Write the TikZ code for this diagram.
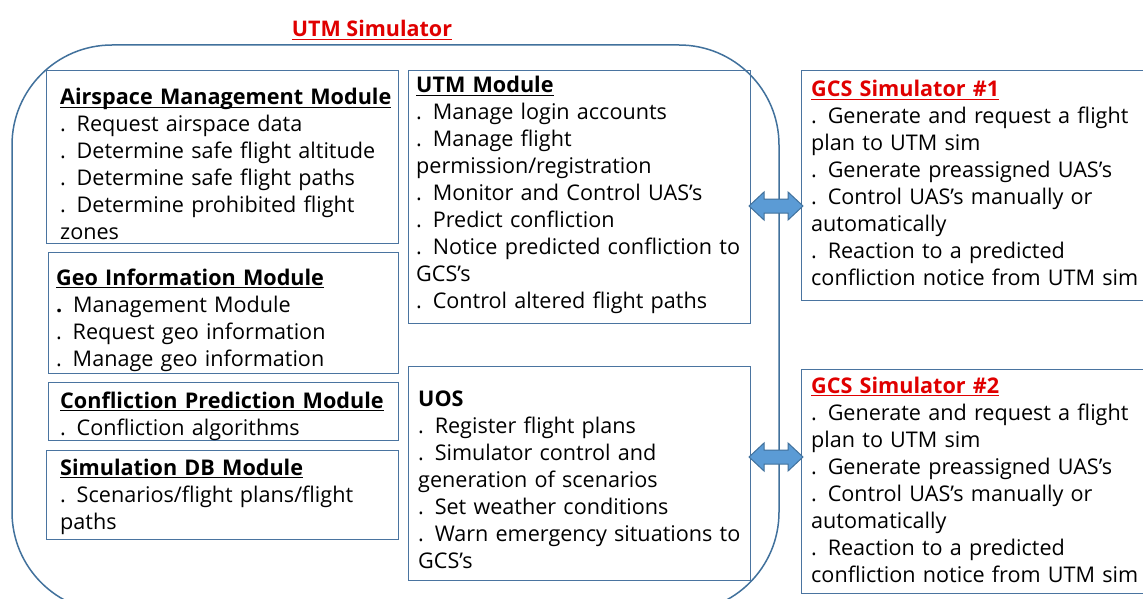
\documentclass[tikz,border=0pt]{standalone}
\usepackage{fontspec}
\setmainfont{Open Sans}
\definecolor{boxc}{HTML}{4A74A0}
\definecolor{bigc}{HTML}{41719C}
\definecolor{arrfill}{HTML}{5B9BD5}
\definecolor{arrdraw}{HTML}{41719C}
\definecolor{titred}{HTML}{E00000}
\newlength\myulw
\newcommand\myul[1]{\settowidth\myulw{#1}\rlap{\rule[-3.2pt]{\myulw}{1.3pt}}#1}
\tikzset{
  box/.style={draw=boxc, line width=1.2pt, rectangle, inner sep=0pt, anchor=north west},
  txt/.style={anchor=base west, inner sep=0pt, text width=400pt, align=left,
     font=\fontsize{21.6}{27}\selectfont, text=black},
  dbl/.style={fill=arrfill, draw=arrdraw, line width=1pt, line join=miter}
}
\begin{document}
\begin{tikzpicture}[x=1pt,y=-1pt]
\useasboundingbox (0,0) rectangle (1143,599);
\fill[white] (0,0) rectangle (1143,599);
% big rounded rectangle
\draw[bigc, line width=1.5pt, rounded corners=100pt] (12,45) rectangle (779,612);
\node[font=\fontsize{21.5}{24}\selectfont\bfseries, text=titred, anchor=base, inner sep=0pt] (title) at (372,37) {\myul{UTM Simulator}};
% boxes
\node[box, minimum width=352pt, minimum height=173pt] (air) at (46,70) {};
\node[box, minimum width=342pt, minimum height=253pt] (utm) at (408,70) {};
\node[box, minimum width=350pt, minimum height=121pt] (geo) at (48,252) {};
\node[box, minimum width=350pt, minimum height=58pt] (conf) at (48,382) {};
\node[box, minimum width=352pt, minimum height=89pt] (sdb) at (46,450) {};
\node[box, minimum width=342pt, minimum height=214pt] (uos) at (408,366) {};
\node[box, minimum width=345pt, minimum height=230pt] (gcsa) at (801,70) {};
\node[box, minimum width=345pt, minimum height=224pt] (gcsb) at (801,369) {};
% texts
\node[txt] (airT) at (60,105) {\myul{\textbf{Airspace Management Module}}\\
. Request airspace data\\
. Determine safe flight altitude\\
. Determine safe flight paths\\
. Determine prohibited flight\\
zones};
\node[txt] (utmT) at (416,93) {\myul{\textbf{UTM Module}}\\
. Manage login accounts\\
. Manage flight\\
permission/registration\\
. Monitor and Control UAS’s\\
. Predict confliction\\
. Notice predicted confliction to\\
GCS’s\\
. Control altered flight paths};
\node[txt] (geoT) at (56,285) {\myul{\textbf{Geo Information Module}}\\
\textbf{.} Management Module\\
. Request geo information\\
. Manage geo information};
\node[txt] (confT) at (60,408) {\myul{\textbf{Confliction Prediction Module}}\\
. Confliction algorithms};
\node[txt] (sdbT) at (60,475) {\myul{\textbf{Simulation DB Module}}\\
. Scenarios/flight plans/flight\\
paths};
\node[txt] (uosT) at (418,406) {\textbf{UOS}\\
. Register flight plans\\
. Simulator control and\\
generation of scenarios\\
. Set weather conditions\\
. Warn emergency situations to\\
GCS’s};
\node[txt] (gcsaT) at (811,97) {\textcolor{titred}{\myul{\textbf{GCS Simulator \#1}}}\\
. Generate and request a flight\\
plan to UTM sim\\
. Generate preassigned UAS’s\\
. Control UAS’s manually or\\
automatically\\
. Reaction to a predicted\\
confliction notice from UTM sim};
\node[txt] (gcsbT) at (811,393) {\textcolor{titred}{\myul{\textbf{GCS Simulator \#2}}}\\
. Generate and request a flight\\
plan to UTM sim\\
. Generate preassigned UAS’s\\
. Control UAS’s manually or\\
automatically\\
. Reaction to a predicted\\
confliction notice from UTM sim};
% double block arrows
\coordinate (arrA) at (776,206);
\coordinate (arrB) at (776,457);
\foreach \c in {arrA,arrB}{
  \draw[dbl] ([shift={(-27,0)}]\c) -- ([shift={(-12,-14)}]\c) -- ([shift={(-12,-7)}]\c)
    -- ([shift={(12,-7)}]\c) -- ([shift={(12,-14)}]\c) -- ([shift={(27,0)}]\c)
    -- ([shift={(12,14)}]\c) -- ([shift={(12,7)}]\c) -- ([shift={(-12,7)}]\c)
    -- ([shift={(-12,14)}]\c) -- cycle;
}
\end{tikzpicture}
\end{document}
